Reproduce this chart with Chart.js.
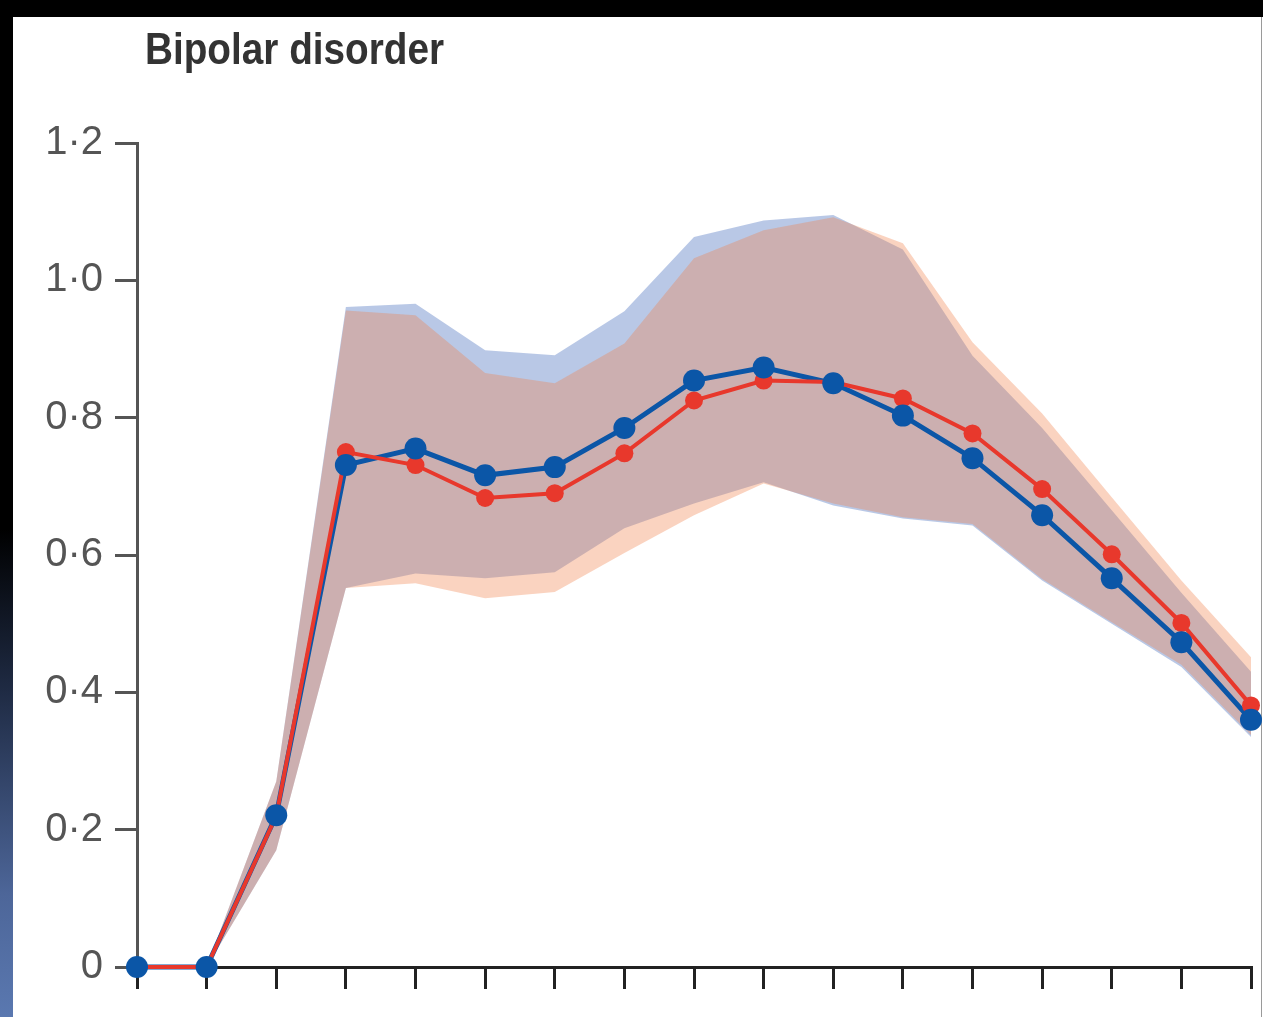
<!DOCTYPE html>
<html>
<head>
<meta charset="utf-8">
<script src="https://cdn.jsdelivr.net/npm/chart.js@4.4.0/dist/chart.umd.min.js"></script>
<style>
  html, body { margin: 0; padding: 0; background: #000; }
  #strip { position: absolute; left: 0; top: 0; width: 13px; height: 1017px;
    background: linear-gradient(to bottom, #000 0%, #000 52%, #1f2b44 68%, #4d6699 88%, #5a78b0 100%); }
  #panel { position: absolute; left: 13px; top: 17px; width: 1250px; height: 1000px; background: #fff; }
  #edge { position: absolute; left: 1261px; top: 17px; width: 1px; height: 1000px; background: #9a9a9a; }
  #chart { position: absolute; left: 0; top: 0; }
</style>
</head>
<body>
<div id="strip"></div>
<div id="panel"></div>
<div id="edge"></div>
<canvas id="chart" width="1263" height="1017"></canvas>
<script>
// age groups (x categories, no labels shown on the original)
const ageGroups = ['<5', '5–9', '10–14', '15–19', '20–24', '25–29', '30–34', '35–39', '40–44',
  '45–49', '50–54', '55–59', '60–64', '65–69', '70–74', '75–79', '80+'];

// y axis tick labels (0 to 1.2, step 0.2)
const yTickLabels = ['0', '0·2', '0·4', '0·6', '0·8', '1·0', '1·2'];

// blue series and its uncertainty band
const blueRate  = [0, 0, 0.221, 0.731, 0.755, 0.716, 0.728, 0.785, 0.854, 0.873, 0.850, 0.803, 0.741, 0.658, 0.566, 0.473, 0.360];
const blueUpper = [0, 0, 0.270, 0.961, 0.966, 0.898, 0.891, 0.955, 1.063, 1.087, 1.095, 1.045, 0.890, 0.785, 0.665, 0.545, 0.430];
const blueLower = [0, 0, 0.170, 0.552, 0.573, 0.566, 0.575, 0.639, 0.675, 0.706, 0.672, 0.653, 0.643, 0.563, 0.500, 0.437, 0.335];

// red series and its uncertainty band
const redRate  = [0, 0, 0.220, 0.750, 0.731, 0.683, 0.690, 0.748, 0.825, 0.854, 0.852, 0.828, 0.777, 0.696, 0.601, 0.501, 0.381];
const redUpper = [0, 0, 0.270, 0.956, 0.949, 0.865, 0.850, 0.908, 1.032, 1.073, 1.092, 1.054, 0.910, 0.806, 0.684, 0.563, 0.451];
const redLower = [0, 0, 0.170, 0.552, 0.559, 0.537, 0.546, 0.603, 0.658, 0.704, 0.675, 0.655, 0.645, 0.565, 0.502, 0.440, 0.338];

const BLUE = '#0b56a7';
const RED = '#e8382c';

// title in the top-left corner, squeezed a bit to look condensed
const titlePlugin = {
  id: 'panelTitle',
  afterDraw(chart) {
    const c = chart.ctx;
    c.save();
    c.font = 'bold 44px "Liberation Sans", sans-serif';
    c.fillStyle = '#333';
    c.textAlign = 'left';
    c.textBaseline = 'alphabetic';
    c.scale(0.88, 1);
    c.fillText('Bipolar disorder', 145 / 0.88, 64);
    c.restore();
  }
};

const ctx = document.getElementById('chart').getContext('2d');
new Chart(ctx, {
  type: 'line',
  data: {
    labels: ageGroups,
    datasets: [
      { label: 'blue upper', data: blueUpper, fill: '+1', backgroundColor: 'rgba(80,117,192,0.40)',
        borderWidth: 0, pointRadius: 0, order: 6 },
      { label: 'blue lower', data: blueLower, fill: false, borderWidth: 0, pointRadius: 0, order: 6 },
      { label: 'red upper', data: redUpper, fill: '+1', backgroundColor: 'rgba(241,130,74,0.35)',
        borderWidth: 0, pointRadius: 0, order: 5 },
      { label: 'red lower', data: redLower, fill: false, borderWidth: 0, pointRadius: 0, order: 5 },
      { label: 'blue line', data: blueRate, borderColor: BLUE, borderWidth: 5, pointRadius: 0,
        fill: false, order: 4, clip: false },
      { label: 'red', data: redRate, borderColor: RED, borderWidth: 4, pointRadius: 9,
        pointBackgroundColor: RED, pointBorderWidth: 0, fill: false, order: 3, clip: false },
      { label: 'blue', data: blueRate, showLine: false, pointRadius: 11,
        pointBackgroundColor: BLUE, pointBorderWidth: 0, fill: false, order: 2, clip: false }
    ]
  },
  options: {
    responsive: false,
    animation: false,
    layout: { padding: { left: 13, right: 12, top: 143, bottom: 0 } },
    elements: { line: { tension: 0 } },
    plugins: { legend: { display: false }, tooltip: { enabled: false } },
    scales: {
      x: {
        offset: false,
        grid: { offset: false, drawOnChartArea: false, drawTicks: true, tickLength: 22, color: '#222', lineWidth: 3 },
        border: { color: '#222', width: 3 },
        ticks: { display: false },
        afterFit: s => { s.height = 50; }
      },
      y: {
        min: 0,
        max: 1.2,
        ticks: {
          stepSize: 0.2,
          padding: 12,
          color: '#555',
          font: { family: '"Liberation Sans", sans-serif', size: 40 },
          callback: (v, i) => yTickLabels[i]
        },
        grid: { drawOnChartArea: false, tickLength: 22, color: '#555', lineWidth: 3 },
        border: { color: '#555', width: 3 },
        afterFit: s => { s.width = 124; }
      }
    }
  },
  plugins: [titlePlugin]
});
</script>
</body>
</html>
